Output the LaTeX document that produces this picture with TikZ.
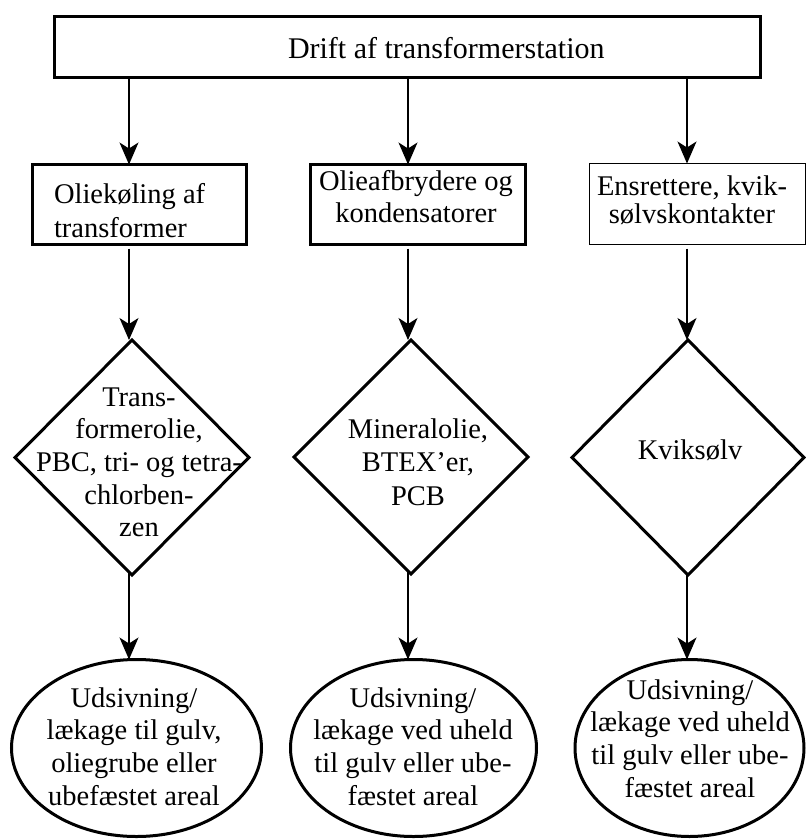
\documentclass[tikz,border=0pt]{standalone}
\usepackage{fontspec}
\setmainfont{Liberation Serif}
\usetikzlibrary{shapes.geometric,arrows.meta}
\newcommand\mlines[2]{\begin{tabular}[t]{@{}#1@{}}#2\end{tabular}}
\begin{document}
\begin{tikzpicture}[x=1pt,y=-1pt,
  thickbox/.style={draw,line width=3pt,rectangle,inner sep=0pt,outer sep=0pt},
  thinbox/.style={draw,line width=1pt,rectangle,inner sep=0pt,outer sep=0pt},
  dia/.style={draw,line width=3pt,diamond,inner sep=0pt,outer sep=0pt},
  ell/.style={draw,line width=3pt,ellipse,inner sep=0pt,outer sep=0pt},
  lbl/.style={inner sep=0pt,outer sep=0pt,anchor=base},
  arr/.style={line width=1.3pt,-{Stealth[length=22pt,width=19pt,inset=6pt]}}]
\useasboundingbox (0,0) rectangle (806,839);
% shapes
\node[thickbox,minimum width=706pt,minimum height=61pt] (top) at (407.5,47) {};
\node[thickbox,minimum width=214pt,minimum height=80pt] (b1) at (139.5,204.5) {};
\node[thickbox,minimum width=215pt,minimum height=80pt] (b2) at (418,204.5) {};
\node[thinbox,minimum width=216pt,minimum height=81pt] (b3) at (697.5,204) {};
\node[dia,minimum width=234pt,minimum height=235pt] (d1) at (132,457.5) {};
\node[dia,minimum width=234pt,minimum height=234pt] (d2) at (411,457) {};
\node[dia,minimum width=232pt,minimum height=235pt] (d3) at (688,457.5) {};
\node[ell,minimum width=250pt,minimum height=177pt] (e1) at (136.5,748) {};
\node[ell,minimum width=246pt,minimum height=177pt] (e2) at (413.5,748) {};
\node[ell,minimum width=229pt,minimum height=177pt] (e3) at (689.5,748) {};
% texts
\node[lbl,anchor=base west,font=\fontsize{30}{36}\selectfont] (ttop) at (288,58) {Drift af transformerstation};
\node[lbl,anchor=base west,font=\fontsize{28.5}{34}\selectfont] (tb1) at (54,203) {\mlines{l}{Oliekøling af\\transformer}};
\node[lbl,font=\fontsize{28.5}{32}\selectfont] (tb2) at (416,190) {\mlines{c}{Olieafbrydere og\\kondensatorer}};
\node[lbl,font=\fontsize{28.5}{28}\selectfont] (tb3) at (692,195) {\mlines{c}{Ensrettere, kvik-\\sølvskontakter}};
\node[lbl,font=\fontsize{28.5}{32.7}\selectfont] (td1) at (139,406) {\mlines{c}{Trans-\\formerolie,\\PBC, tri- og tetra-\\chlorben-\\zen}};
\node[lbl,font=\fontsize{28.5}{33.5}\selectfont] (td2) at (418,438) {\mlines{c}{Mineralolie,\\BTEX’er,\\PCB}};
\node[lbl,font=\fontsize{28.5}{33}\selectfont] (td3) at (690,459) {Kviksølv};
\node[lbl,font=\fontsize{28.5}{32.7}\selectfont] (te1) at (134,707) {\mlines{c}{Udsivning/\\lækage til gulv,\\oliegrube eller\\ubefæstet areal}};
\node[lbl,font=\fontsize{28.5}{32.7}\selectfont] (te2) at (413,707) {\mlines{c}{Udsivning/\\lækage ved uheld\\til gulv eller ube-\\fæstet areal}};
\node[lbl,font=\fontsize{28.5}{32.7}\selectfont] (te3) at (690,699) {\mlines{c}{Udsivning/\\lækage ved uheld\\til gulv eller ube-\\fæstet areal}};
% connectors
\coordinate (c1) at (129,0);
\coordinate (c2) at (408,0);
\coordinate (c3) at (687,0);
\foreach \i in {1,2,3}{
  \draw[arr] (top.south -| c\i) -- (b\i.north -| c\i);
  \draw[arr,shorten <=4pt] (b\i.south -| c\i) -- (d\i.north -| c\i);
  \draw[arr,shorten <=-2pt] (d\i.south -| c\i) -- (e\i.north -| c\i);
}
\end{tikzpicture}
\end{document}
